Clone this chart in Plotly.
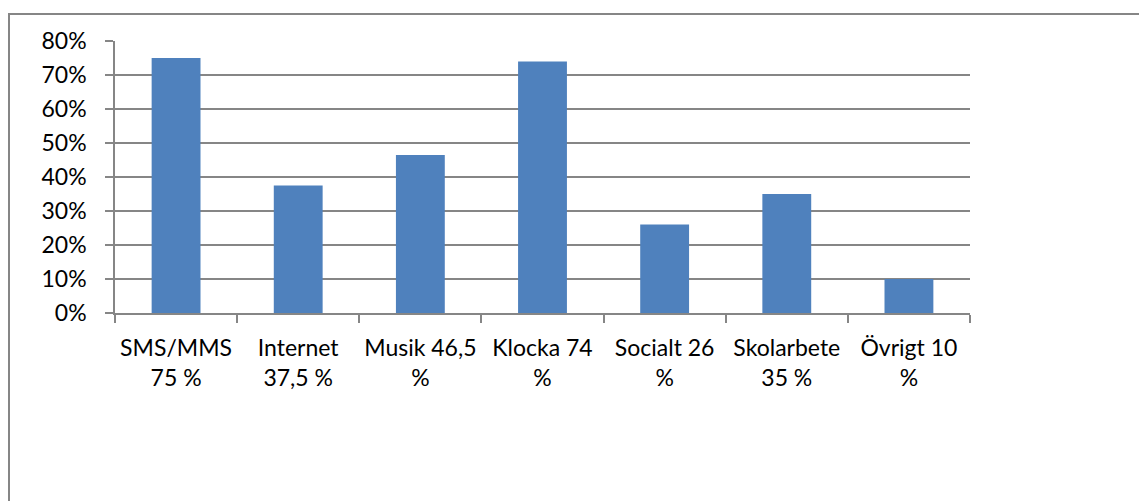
import plotly.graph_objects as go

categories = ["SMS/MMS<br>75 %", "Internet<br>37,5 %", "Musik 46,5<br>%", "Klocka 74<br>%",
              "Socialt 26<br>%", "Skolarbete<br>35 %", "Övrigt 10<br>%"]
values = [0.75, 0.375, 0.465, 0.74, 0.26, 0.35, 0.10]
y_ticks = [0, 0.1, 0.2, 0.3, 0.4, 0.5, 0.6, 0.7, 0.8]

GRAY = "#868686"
FONT = "Lato, Carlito, Calibri, sans-serif"
FS = 23

fig = go.Figure(go.Bar(x=categories, y=values, marker=dict(color="#4F81BD", line=dict(width=0)),
                       width=0.4))

# page body has an 8px default margin, so figure coords = screen coords - 8
OFF = 8
W, H = 1147, 501
L, R, T, B = 115 - OFF, 177 + OFF, 41 - OFF, 188 + OFF
pw, ph = W - L - R, H - T - B

def px_x(p):
    return (p - OFF - L) / pw

def px_y(p):
    return (H - B - (p - OFF)) / ph

fig.update_layout(
    width=W, height=H,
    margin=dict(l=L, r=R, t=T, b=B),
    paper_bgcolor="white", plot_bgcolor="white",
    showlegend=False,
    font=dict(family=FONT, size=FS, color="black"),
    xaxis=dict(type="category", showgrid=False, showline=True, linecolor=GRAY, linewidth=1.5,
               ticks="outside", tickson="boundaries", ticklen=8, tickcolor=GRAY, tickwidth=1.5,
               tickfont=dict(family=FONT, size=FS, color="black"), ticklabelstandoff=14,
               fixedrange=True),
    yaxis=dict(range=[0, 0.8], tickvals=y_ticks, tickformat=".0%", showgrid=True,
               gridcolor=GRAY, gridwidth=1.5, showline=True, linecolor=GRAY, linewidth=1.5,
               ticks="outside", ticklen=8, tickcolor=GRAY, tickwidth=1.5, zeroline=False,
               tickfont=dict(family=FONT, size=FS, color="black"), ticklabelstandoff=14,
               fixedrange=True),
    shapes=[dict(type="rect", xref="paper", yref="paper",
                 x0=px_x(9), x1=px_x(1146), y0=px_y(600), y1=px_y(14),
                 line=dict(color=GRAY, width=2), fillcolor="rgba(0,0,0,0)", layer="below")],
)

fig.write_html("out.html")
